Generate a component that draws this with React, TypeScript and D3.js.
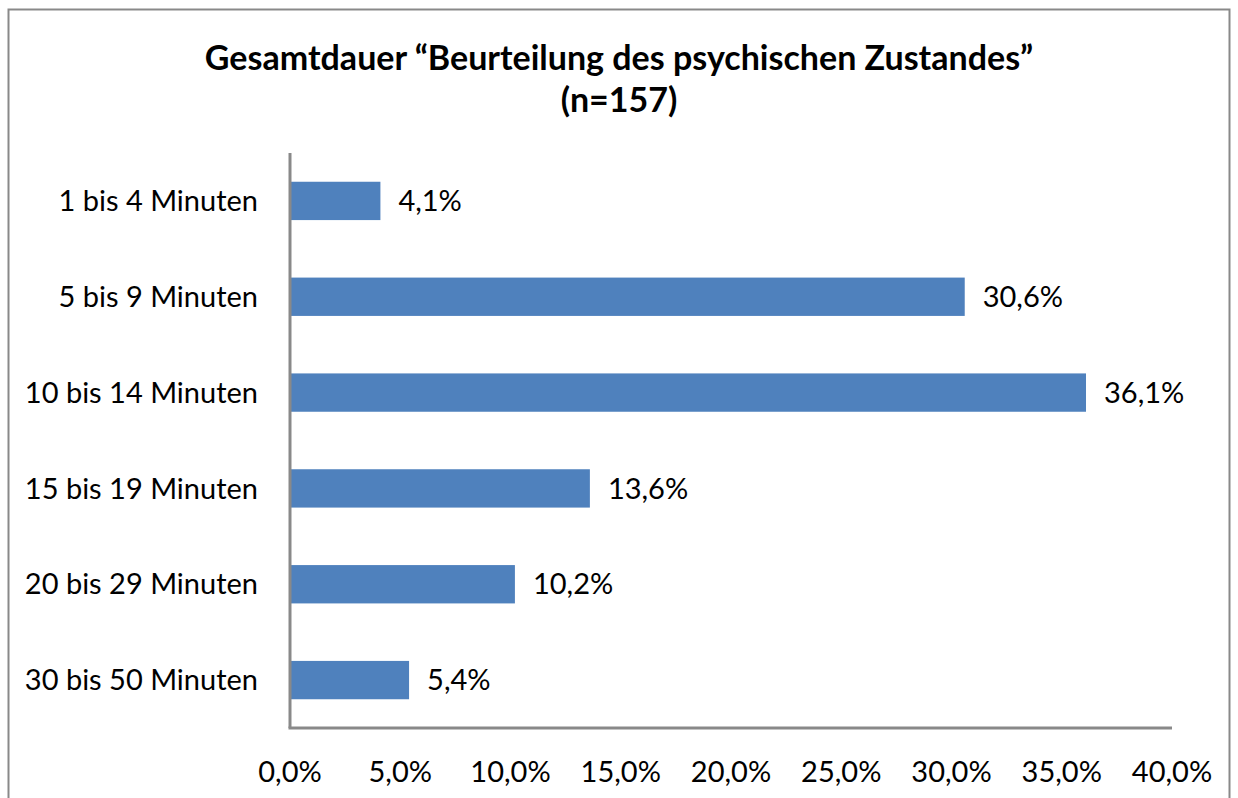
import React from "react";
import * as d3 from "d3";

const categories = [
  "1 bis 4 Minuten",
  "5 bis 9 Minuten",
  "10 bis 14 Minuten",
  "15 bis 19 Minuten",
  "20 bis 29 Minuten",
  "30 bis 50 Minuten",
];
const values = [4.1, 30.6, 36.1, 13.6, 10.2, 5.4];
const ticks = [0, 5, 10, 15, 20, 25, 30, 35, 40];
const titleLines = ["Gesamtdauer \u201cBeurteilung des psychischen Zustandes\u201d", "(n=157)"];

const fmt = (v: number) => v.toFixed(1).replace(".", ",") + "%";

export default function App() {
  const width = 1238;
  const height = 798;
  const left = 290;
  const right = 1172;
  const top = 153;
  const bottom = 728;
  const font = "Lato, 'Open Sans', sans-serif";

  const x = d3.scaleLinear().domain([0, 40]).range([left, right]);
  const y = d3
    .scaleBand()
    .domain(categories)
    .range([top, bottom])
    .paddingInner(0.6)
    .paddingOuter(0.3);

  return (
    <svg
      width={width}
      height={height}
      style={{ position: "absolute", left: 0, top: 0, background: "#fff" }}
    >
      <rect x={8.5} y={9.5} width={1221} height={800} fill="#fff" stroke="#898989" strokeWidth={2} />
      {titleLines.map((t, i) => (
        <text
          key={i}
          x={619}
          y={70 + i * 42}
          textAnchor="middle"
          fontFamily={font}
          fontWeight="bold"
          fontSize={34}
        >
          {t}
        </text>
      ))}
      {categories.map((c, i) => (
        <g key={c}>
          <rect
            x={x(0)}
            y={y(c)}
            width={x(values[i]) - x(0)}
            height={y.bandwidth()}
            fill="#4F81BD"
          />
          <text
            x={x(values[i]) + 18}
            y={(y(c) as number) + y.bandwidth() / 2}
            dy="0.35em"
            fontFamily={font}
            fontSize={29}
          >
            {fmt(values[i])}
          </text>
          <text
            x={258}
            y={(y(c) as number) + y.bandwidth() / 2}
            dy="0.35em"
            textAnchor="end"
            fontFamily={font}
            fontSize={29}
          >
            {c}
          </text>
        </g>
      ))}
      <line x1={left} x2={left} y1={top} y2={bottom} stroke="#898989" strokeWidth={3} />
      <line x1={left - 1.5} x2={right} y1={bottom} y2={bottom} stroke="#898989" strokeWidth={3} />
      {ticks.map((t) => (
        <text
          key={t}
          x={x(t)}
          y={782}
          textAnchor="middle"
          fontFamily={font}
          fontSize={29}
        >
          {fmt(t)}
        </text>
      ))}
    </svg>
  );
}
